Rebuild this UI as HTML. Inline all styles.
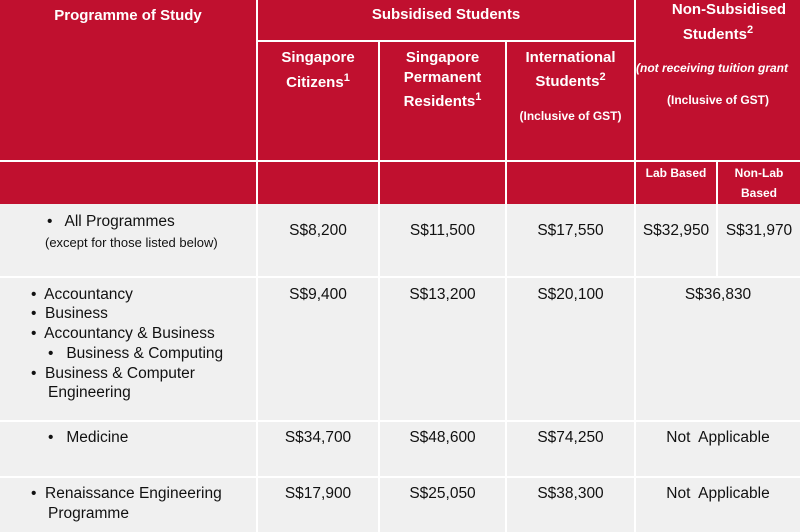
<!DOCTYPE html>
<html><head><meta charset="utf-8"><style>
body{margin:0;width:800px;height:532px;overflow:hidden;background:#f0f0f0;position:relative;font-family:"Liberation Sans",Arial,sans-serif;}
.r{position:absolute;background:#c0102f;}
.l{position:absolute;background:#fff;}
.t{position:absolute;height:20px;line-height:20px;white-space:nowrap;}
.h{color:#fff;font-weight:bold;font-size:15px;text-align:center;}
.s{font-size:12px;}
.b{color:#111;font-size:15.5px;}
.c{text-align:center;}
sup{font-size:11px;vertical-align:6px;line-height:0;}
</style></head><body>
<div class="r" style="left:0;top:0;width:800px;height:204px"></div>
<div class="l" style="left:256px;top:0;width:2px;height:532px"></div>
<div class="l" style="left:378px;top:41px;width:2px;height:491px"></div>
<div class="l" style="left:505px;top:41px;width:2px;height:491px"></div>
<div class="l" style="left:634px;top:0;width:2px;height:532px"></div>
<div class="l" style="left:716px;top:161px;width:2px;height:116px"></div>
<div class="l" style="left:256px;top:40px;width:378px;height:2px"></div>
<div class="l" style="left:0;top:160px;width:800px;height:2px"></div>
<div class="l" style="left:0;top:276px;width:800px;height:2px"></div>
<div class="l" style="left:0;top:420px;width:800px;height:2px"></div>
<div class="l" style="left:0;top:476px;width:800px;height:2px"></div>
<div class="t h" style="left:0;width:256px;top:6px">Programme of Study</div>
<div class="t h" style="left:258px;width:376px;top:5px">Subsidised Students</div>
<div class="t h" style="left:258px;width:120px;top:48px">Singapore</div>
<div class="t h" style="left:258px;width:120px;top:73px">Citizens<sup>1</sup></div>
<div class="t h" style="left:380px;width:125px;top:48px">Singapore</div>
<div class="t h" style="left:380px;width:125px;top:68px">Permanent</div>
<div class="t h" style="left:380px;width:125px;top:92px">Residents<sup>1</sup></div>
<div class="t h" style="left:507px;width:127px;top:48px">International</div>
<div class="t h" style="left:507px;width:127px;top:72px">Students<sup>2</sup></div>
<div class="t h s" style="left:507px;width:127px;top:106px">(Inclusive of GST)</div>
<div class="t h" style="left:636px;width:186px;top:0px">Non-Subsidised</div>
<div class="t h" style="left:636px;width:164px;top:25px">Students<sup>2</sup></div>
<div class="t h s" style="left:636px;width:180px;top:58px;font-style:italic;text-align:left">(not receiving tuition grant</div>
<div class="t h s" style="left:636px;width:164px;top:90px">(Inclusive of GST)</div>
<div class="t h s" style="left:636px;width:80px;top:163px">Lab Based</div>
<div class="t h s" style="left:718px;width:82px;top:163px">Non-Lab</div>
<div class="t h s" style="left:718px;width:82px;top:183px">Based</div>
<div class="t b" style="left:47px;top:212px">•&nbsp;&nbsp; All Programmes</div>
<div class="t b" style="left:45px;top:233px;font-size:13px">(except for those listed below)</div>
<div class="t b c" style="left:258px;width:120px;top:221px">S$8,200</div>
<div class="t b c" style="left:380px;width:125px;top:221px">S$11,500</div>
<div class="t b c" style="left:507px;width:127px;top:221px">S$17,550</div>
<div class="t b c" style="left:636px;width:80px;top:221px">S$32,950</div>
<div class="t b c" style="left:718px;width:82px;top:221px">S$31,970</div>
<div class="t b" style="left:31px;top:285px">•&nbsp; Accountancy</div>
<div class="t b" style="left:31px;top:304px">•&nbsp; Business</div>
<div class="t b" style="left:31px;top:324px">•&nbsp; Accountancy &amp; Business</div>
<div class="t b" style="left:48px;top:344px">•&nbsp;&nbsp; Business &amp; Computing</div>
<div class="t b" style="left:31px;top:364px">•&nbsp; Business &amp; Computer</div>
<div class="t b" style="left:48px;top:383px">Engineering</div>
<div class="t b c" style="left:258px;width:120px;top:285px">S$9,400</div>
<div class="t b c" style="left:380px;width:125px;top:285px">S$13,200</div>
<div class="t b c" style="left:507px;width:127px;top:285px">S$20,100</div>
<div class="t b c" style="left:636px;width:164px;top:285px">S$36,830</div>
<div class="t b" style="left:48px;top:428px">•&nbsp;&nbsp; Medicine</div>
<div class="t b c" style="left:258px;width:120px;top:428px">S$34,700</div>
<div class="t b c" style="left:380px;width:125px;top:428px">S$48,600</div>
<div class="t b c" style="left:507px;width:127px;top:428px">S$74,250</div>
<div class="t b c" style="left:636px;width:164px;top:428px">Not&nbsp; Applicable</div>
<div class="t b" style="left:31px;top:484px">•&nbsp; Renaissance Engineering</div>
<div class="t b" style="left:48px;top:504px">Programme</div>
<div class="t b c" style="left:258px;width:120px;top:484px">S$17,900</div>
<div class="t b c" style="left:380px;width:125px;top:484px">S$25,050</div>
<div class="t b c" style="left:507px;width:127px;top:484px">S$38,300</div>
<div class="t b c" style="left:636px;width:164px;top:484px">Not&nbsp; Applicable</div>
</body></html>
